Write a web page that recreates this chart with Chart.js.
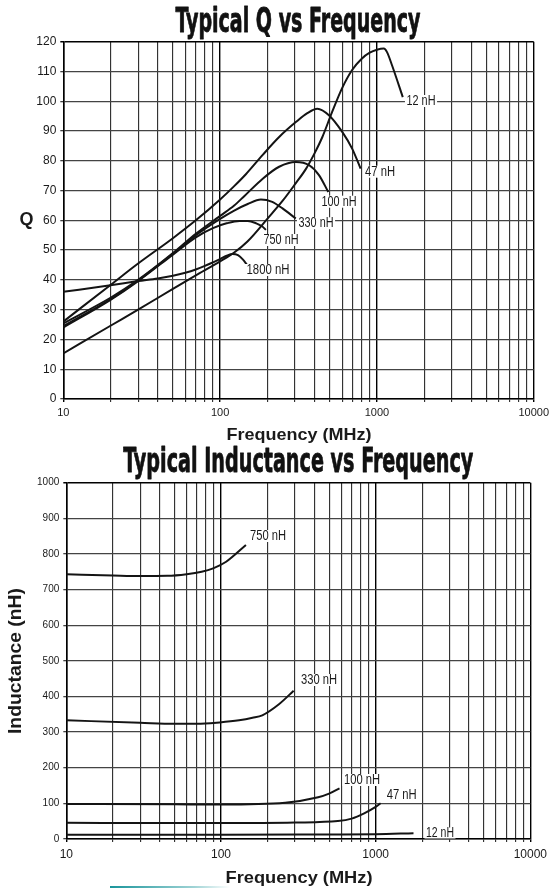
<!DOCTYPE html>
<html>
<head>
<meta charset="utf-8">
<script src="https://cdn.jsdelivr.net/npm/chart.js@4.4.0/dist/chart.umd.min.js"></script>
<style>
html, body { margin: 0; padding: 0; background: #fff; }
body { width: 553px; height: 890px; position: relative; overflow: hidden; }
#qWrap { position: absolute; left: 0; top: 0; width: 553px; height: 445px; }
#lWrap { position: absolute; left: 0; top: 440px; width: 553px; height: 450px; }
#bar { position: absolute; left: 110px; top: 886px; width: 120px; height: 2px;
       background: linear-gradient(to right, #1a959b, #9fd3d5 70%, #fff); }
</style>
</head>
<body>
<div id="qWrap"><canvas id="qChart"></canvas></div>
<div id="lWrap"><canvas id="lChart"></canvas></div>
<div id="bar"></div>
<script>
// grid / tick positions (MHz)
const freqTicks = [10,20,30,40,50,60,70,80,90,100,200,300,400,500,600,700,800,900,
                   1000,2000,3000,4000,5000,6000,7000,8000,9000,10000];
const decades = [10,100,1000,10000];

// Typical Q vs Frequency (freq MHz / Q)
const q12F   = [10,20,30,50,70,100,123,150,200,250,304,352,400,449,519,601,695,800,900,1000,1107,1160,1250,1462];
const q12    = [15.3,24.6,30,37,41.5,46.2,49.2,53,60.5,66.5,72.5,77.2,82.5,88,96.5,104.5,110.5,114.3,116.3,117.3,117.7,116.5,112,101.4];
const q47F   = [10,20,30,50,70,100,123,146,187,238,304,360,417,494,601,695,787];
const q47    = [26,38.3,45.5,54,60,67,71.5,75.5,82,88,93,96,97.5,95.3,89.7,84.1,77.4];
const q100F  = [10,20,30,50,70,100,123,143,187,238,304,370,427,490];
const q100   = [25.4,34,40,49,55.5,61.5,65,68.2,74,78,79.6,78.5,75.2,69.5];
const q330F  = [10,20,30,50,70,100,123,150,182,215,250,304];
const q330   = [24.5,33.5,39.8,48.8,55,60.5,63.3,65.5,67,66.2,64,60.6];
const q750F  = [10,20,30,50,70,90,110,133,150,170,185,196];
const q750   = [24,33.3,39.6,48.5,54.3,57.4,59,59.8,59.8,59,58,56.8];
const q1800F = [10,20,30,40,50,60,70,80,90,100,110,120,130,140,148];
const q1800  = [36,38.2,39.6,40.5,41.4,42.4,43.5,44.7,45.9,47,48.1,48.7,48.3,46.8,45.2];

// Typical Inductance vs Frequency (freq MHz / nH)
const l12F  = [10,100,500,1000,1757];
const l12   = [12,12,12.5,13,16];
const l47F  = [10,50,100,300,570,700,843,1000,1077];
const l47   = [45,44.5,44.5,46,50,57,71.8,90,100];
const l100F = [10,50,100,260,425,500,584];
const l100  = [98,97,96.5,101.6,116.8,127,142];
const l330F = [10,30,50,70,98,131,160,185,237,295];
const l330  = [333,326,323,323,327,333,340,347,378,416];
const l750F = [10,20,30,45,60,75,89,108,145];
const l750  = [742.7,739.5,738,738.5,743,750,759.6,778,825];

const toPts = (f, v) => f.map((x, i) => ({ x: x, y: v[i] }));

function curve(f, v) {
  return {
    data: toPts(f, v),
    borderColor: '#141414',
    borderWidth: 2,
    pointRadius: 0,
    fill: false,
    cubicInterpolationMode: 'monotone'
  };
}

function putText(ctx, it) {
  ctx.save();
  ctx.font = it.font;
  const w = ctx.measureText(it.text).width;
  const sx = it.width ? it.width / w : 1;
  ctx.translate(it.x, it.y);
  if (it.rotate) ctx.rotate(it.rotate);
  ctx.scale(sx, 1);
  ctx.textAlign = 'center';
  ctx.textBaseline = it.baseline || 'middle';
  if (it.bg) {
    ctx.fillStyle = '#fff';
    ctx.fillRect(-w / 2 - 2, -it.bg / 2, w + 4, it.bg);
  }
  ctx.fillStyle = it.color || '#1a1a1a';
  ctx.fillText(it.text, 0, 0);
  if (it.stroke) {
    ctx.strokeStyle = ctx.fillStyle;
    ctx.lineWidth = it.stroke;
    ctx.lineJoin = 'round';
    ctx.strokeText(it.text, 0, 0);
  }
  ctx.restore();
}

function textPlugin(items) {
  return {
    id: 'sheetText',
    afterDatasetsDraw(chart) {
      items.forEach(it => putText(chart.ctx, it));
    }
  };
}

const titleFont = 'bold 34px "DejaVu Sans Condensed", Roboto, sans-serif';
const axisFont = 'bold 17px "Liberation Sans", Arial, sans-serif';
const labelFont = '14px "Liberation Sans", Arial, sans-serif';

function xScale(h, pad) {
  return {
    type: 'logarithmic',
    min: 10, max: 10000,
    afterBuildTicks: s => { s.ticks = freqTicks.map(v => ({ value: v })); },
    afterFit: s => { s.height = h; },
    ticks: {
      autoSkip: false, maxRotation: 0, minRotation: 0, padding: pad,
      color: '#1a1a1a',
      font: { family: 'Liberation Sans', size: h > 48 ? 12 : 11 },
      callback: v => decades.includes(v) ? String(v) : ''
    },
    grid: {
      color: c => decades.includes(c.tick.value) ? '#000' : '#333',
      lineWidth: c => decades.includes(c.tick.value) ? 1.4 : 1.15,
      tickLength: 3
    },
    border: { color: '#000', width: 1.5 }
  };
}

function yScale(w, max, step, size) {
  return {
    min: 0, max: max,
    afterFit: s => { s.width = w; },
    ticks: {
      stepSize: step, padding: 4, color: '#1a1a1a',
      font: { family: 'Liberation Sans', size: size },
      callback: v => String(v)
    },
    grid: {
      color: c => c.tick.value === max ? '#000' : '#444',
      lineWidth: c => c.tick.value === max ? 1.5 : 1.3,
      tickLength: 3
    },
    border: { color: '#000', width: 1.5 }
  };
}

const qItems = [
  { text: 'Typical Q vs Frequency', x: 298, y: 31.7, baseline: 'alphabetic', font: titleFont, width: 245, color: '#111', stroke: 0.8 },
  { text: 'Frequency (MHz)', x: 299, y: 435.5, font: axisFont, width: 145 },
  { text: 'Q', x: 26.5, y: 220, font: 'bold 18px "Liberation Sans", Arial, sans-serif' },
  { text: '12 nH', x: 421, y: 101, font: labelFont, width: 29, bg: 12 },
  { text: '47 nH', x: 380, y: 171.7, font: labelFont, width: 30, bg: 12 },
  { text: '100 nH', x: 339, y: 201.7, font: labelFont, width: 35, bg: 12 },
  { text: '330 nH', x: 316, y: 223.3, font: labelFont, width: 35, bg: 12 },
  { text: '750 nH', x: 281, y: 240, font: labelFont, width: 35, bg: 12 },
  { text: '1800 nH', x: 268, y: 270, font: labelFont, width: 43, bg: 12 }
];

const lItems = [
  { text: 'Typical Inductance vs Frequency', x: 298.3, y: 32, baseline: 'alphabetic', font: titleFont, width: 350, color: '#111', stroke: 0.8 },
  { text: 'Frequency (MHz)', x: 299, y: 438, font: axisFont, width: 147 },
  { text: 'Inductance (nH)', x: 16, y: 221, rotate: -Math.PI / 2, font: 'bold 18px "Liberation Sans", Arial, sans-serif', width: 146 },
  { text: '750 nH', x: 268, y: 96, font: labelFont, width: 36, bg: 12 },
  { text: '330 nH', x: 319, y: 240, font: labelFont, width: 36, bg: 12 },
  { text: '100 nH', x: 362, y: 340, font: labelFont, width: 36, bg: 12 },
  { text: '47 nH', x: 401.7, y: 355, font: labelFont, width: 30, bg: 12 },
  { text: '12 nH', x: 440, y: 393, font: labelFont, width: 28, bg: 11 }
];

new Chart(document.getElementById('qChart'), {
  type: 'line',
  data: {
    datasets: [curve(q12F, q12), curve(q47F, q47), curve(q100F, q100),
               curve(q330F, q330), curve(q750F, q750), curve(q1800F, q1800)]
  },
  options: {
    animation: false,
    responsive: true,
    maintainAspectRatio: false,
    parsing: false,
    layout: { padding: { left: 0, right: 17.5, top: 41.7, bottom: 0 } },
    plugins: { legend: { display: false }, tooltip: { enabled: false }, title: { display: false } },
    scales: { x: xScale(46, 4), y: yScale(63.3, 120, 10, 12) }
  },
  plugins: [textPlugin(qItems)]
});

new Chart(document.getElementById('lChart'), {
  type: 'line',
  data: {
    datasets: [curve(l12F, l12), curve(l47F, l47), curve(l100F, l100),
               curve(l330F, l330), curve(l750F, l750)]
  },
  options: {
    animation: false,
    responsive: true,
    maintainAspectRatio: false,
    parsing: false,
    layout: { padding: { left: 0, right: 16.3, top: 42.7, bottom: 0 } },
    plugins: { legend: { display: false }, tooltip: { enabled: false }, title: { display: false } },
    scales: { x: xScale(51.1, 6), y: yScale(66.3, 1000, 100, 10) }
  },
  plugins: [textPlugin(lItems)]
});
</script>
</body>
</html>
